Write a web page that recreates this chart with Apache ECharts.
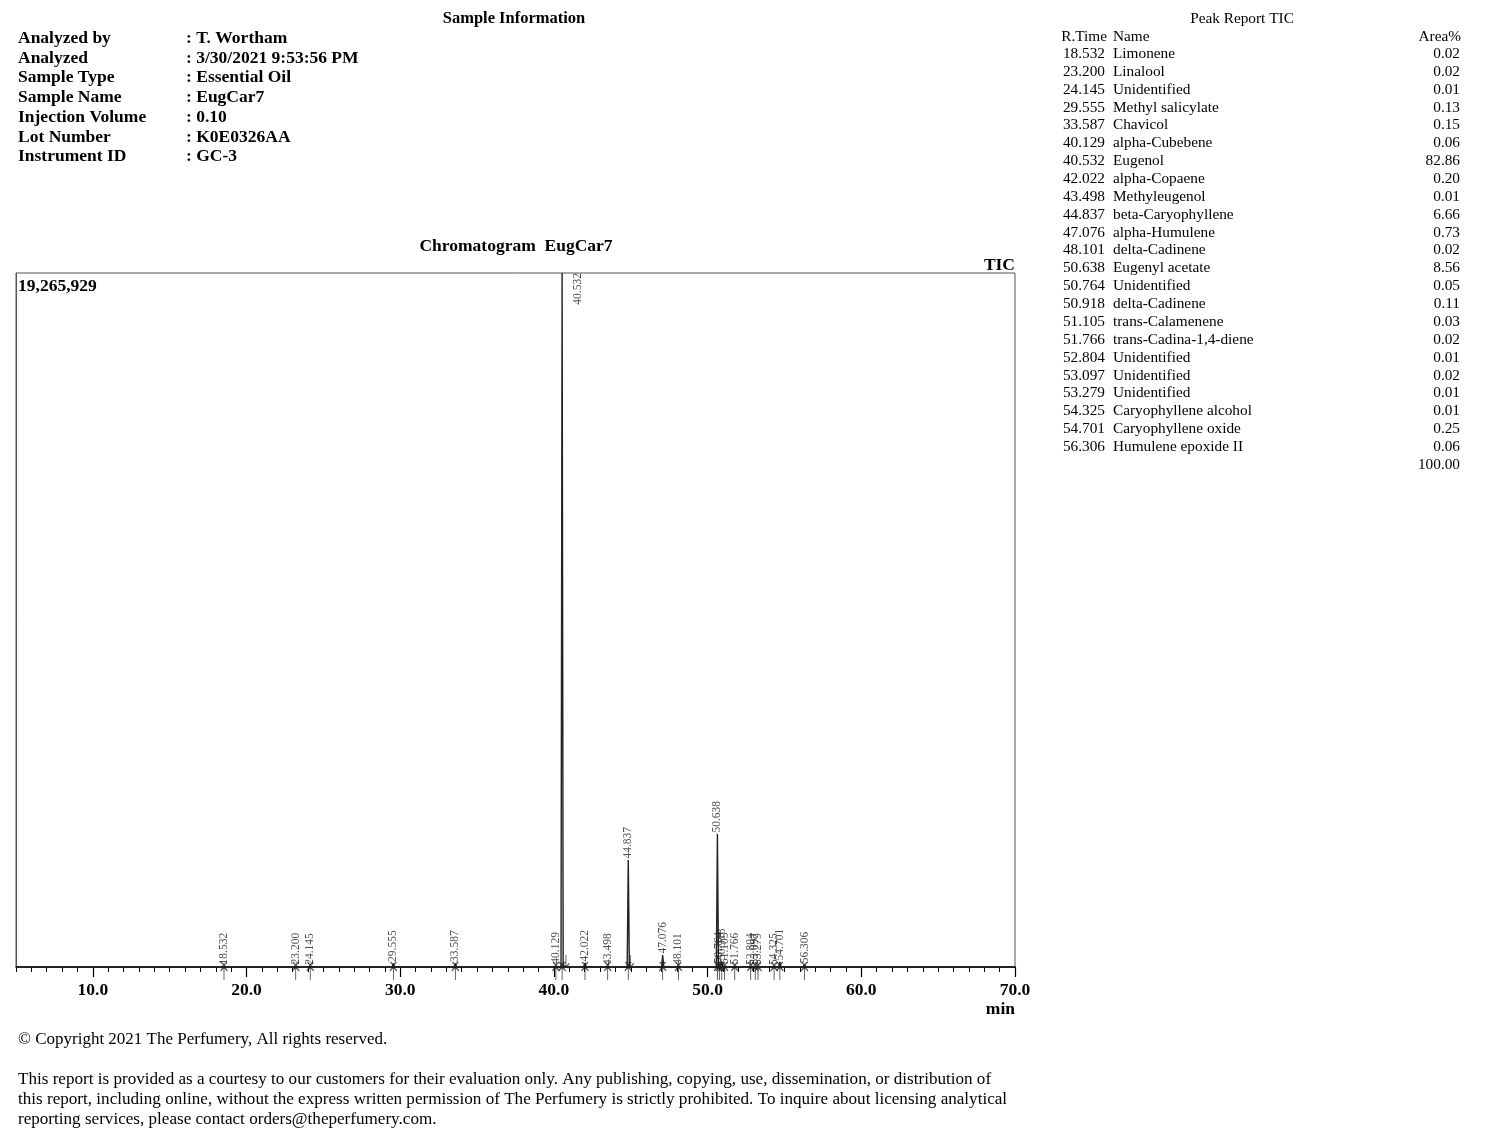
<!DOCTYPE html>
<html>
<head>
<meta charset="utf-8">
<script src="https://cdn.jsdelivr.net/npm/echarts@6/dist/echarts.min.js"></script>
<style>
html,body{margin:0;padding:0;background:#fff;}
#chart{width:1500px;height:1147px;}
</style>
</head>
<body>
<div id="chart"></div>
<script>
// ---- data ----
var retentionTimes = [18.532, 23.200, 24.145, 29.555, 33.587, 40.129, 40.532, 42.022, 43.498, 44.837, 47.076, 48.101, 50.638, 50.764, 50.918, 51.105, 51.766, 52.804, 53.097, 53.279, 54.325, 54.701, 56.306];
var compoundNames = ["Limonene", "Linalool", "Unidentified", "Methyl salicylate", "Chavicol", "alpha-Cubebene", "Eugenol", "alpha-Copaene", "Methyleugenol", "beta-Caryophyllene", "alpha-Humulene", "delta-Cadinene", "Eugenyl acetate", "Unidentified", "delta-Cadinene", "trans-Calamenene", "trans-Cadina-1,4-diene", "Unidentified", "Unidentified", "Unidentified", "Caryophyllene alcohol", "Caryophyllene oxide", "Humulene epoxide II"];
var areaPercent = ["0.02", "0.02", "0.01", "0.13", "0.15", "0.06", "82.86", "0.20", "0.01", "6.66", "0.73", "0.02", "8.56", "0.05", "0.11", "0.03", "0.02", "0.01", "0.02", "0.01", "0.01", "0.25", "0.06"];
var areaTotal = "100.00";
// estimated apex intensities (counts)
var peakHeights = [30000, 30000, 20000, 100000, 100000, 50000, 19265929, 110000, 15000, 2970000, 330000, 20000, 3690000, 60000, 150000, 40000, 30000, 15000, 30000, 15000, 15000, 140000, 60000];
var peakEndMarks = [40.78, 44.97];
var yMax = 19265929;
var xTickLabels = [10, 20, 30, 40, 50, 60, 70];

var sampleInfoLabels = ["Analyzed by", "Analyzed", "Sample Type", "Sample Name", "Injection Volume", "Lot Number", "Instrument ID"];
var sampleInfoValues = [": T. Wortham", ": 3/30/2021 9:53:56 PM", ": Essential Oil", ": EugCar7", ": 0.10", ": K0E0326AA", ": GC-3"];

// ---- build trace ----
var HW = 0.07;
var trace = [[5, 0]];
retentionTimes.forEach(function (rt, i) {
  trace.push([rt - HW, 0]);
  trace.push([rt, peakHeights[i]]);
  trace.push([rt + HW, 0]);
});
trace.push([70, 0]);

var apexData = retentionTimes.map(function (rt, i) {
  var d = { value: [rt, peakHeights[i]] };
  if (peakHeights[i] >= yMax) {
    d.label = { position: 'right', distance: 5, align: 'right', verticalAlign: 'top', offset: [0, 4] };
  }
  return d;
});
var baseMarks = retentionTimes.map(function (rt) { return [rt, 0]; });
var endMarks = peakEndMarks.map(function (rt) { return [rt, 0]; });

var SERIF = '"Liberation Serif","Times New Roman",Times,serif';

function txt(x, y, s, opt) {
  opt = opt || {};
  return {
    type: 'text', x: x, y: y + 1.5, silent: true,
    style: {
      text: s, fill: '#000',
      font: (opt.bold ? 'bold ' : '') + (opt.size || 15) + 'px ' + SERIF,
      textAlign: opt.align || 'left', textVerticalAlign: 'middle'
    }
  };
}

var graphics = [];
graphics.push(txt(514, 17, 'Sample Information', { bold: true, size: 16.5, align: 'center' }));
sampleInfoLabels.forEach(function (l, i) {
  var y = 37 + i * 19.7;
  graphics.push(txt(18, y, l, { bold: true, size: 17.5 }));
  graphics.push(txt(186, y, sampleInfoValues[i], { bold: true, size: 17.5 }));
});
graphics.push(txt(1242, 17, 'Peak Report TIC', { size: 15.3, align: 'center' }));
graphics.push(txt(1107, 35, 'R.Time', { size: 15.3, align: 'right' }));
graphics.push(txt(1113, 35, 'Name', { size: 15.3 }));
graphics.push(txt(1461, 35, 'Area%', { size: 15.3, align: 'right' }));
retentionTimes.forEach(function (rt, i) {
  var y = 52.5 + i * 17.86;
  graphics.push(txt(1105, y, rt.toFixed(3), { size: 15.3, align: 'right' }));
  graphics.push(txt(1113, y, compoundNames[i], { size: 15.3 }));
  graphics.push(txt(1460, y, areaPercent[i], { size: 15.3, align: 'right' }));
});
graphics.push(txt(1460, 52.5 + retentionTimes.length * 17.86, areaTotal, { size: 15.3, align: 'right' }));

graphics.push(txt(516, 245, 'Chromatogram  EugCar7', { bold: true, size: 17.5, align: 'center' }));
graphics.push(txt(1015, 264, 'TIC', { bold: true, size: 17.5, align: 'right' }));
graphics.push(txt(18, 285, yMax.toLocaleString('en-US'), { bold: true, size: 17.5 }));
graphics.push(txt(1015, 1008, 'min', { bold: true, size: 17.5, align: 'right' }));

graphics.push(txt(18, 1038, '\u00A9 Copyright 2021 The Perfumery, All rights reserved.', { size: 17 }));
graphics.push(txt(18, 1078, 'This report is provided as a courtesy to our customers for their evaluation only. Any publishing, copying, use, dissemination, or distribution of', { size: 17.1 }));
graphics.push(txt(18, 1098, 'this report, including online, without the express written permission of The Perfumery is strictly prohibited. To inquire about licensing analytical', { size: 17.1 }));
graphics.push(txt(18, 1118, 'reporting services, please contact orders@theperfumery.com.', { size: 17.1 }));

var chart = echarts.init(document.getElementById('chart'), null, { renderer: 'canvas' });
chart.setOption({
  animation: false,
  backgroundColor: '#fff',
  grid: { left: 16, right: 485, top: 273, bottom: 180, show: true, borderColor: '#555', borderWidth: 1 },
  xAxis: [{
    type: 'value', min: 5, max: 70, position: 'bottom',
    axisLine: { show: true, onZero: false, lineStyle: { color: '#000', width: 1.5 } },
    axisTick: { show: true, customValues: xTickLabels, length: 10, lineStyle: { color: '#000', width: 1.2 } },
    axisLabel: { show: true, customValues: xTickLabels, margin: 14, color: '#000', fontFamily: SERIF, fontWeight: 'bold', fontSize: 17.5,
      formatter: function (v) { return v.toFixed(1); } },
    splitLine: { show: false }
  }, {
    type: 'value', min: 5, max: 70, interval: 1, position: 'bottom',
    axisLine: { show: false },
    axisTick: { show: true, length: 5, lineStyle: { color: '#000', width: 1 } },
    axisLabel: { show: false },
    splitLine: { show: false }
  }],
  yAxis: {
    type: 'value', min: 0, max: yMax,
    axisLine: { show: true, lineStyle: { color: '#555' } },
    axisTick: { show: false }, axisLabel: { show: false }, splitLine: { show: false }
  },
  series: [{
    type: 'line', data: trace, showSymbol: false, symbol: 'none', clip: true,
    lineStyle: { color: '#222', width: 1.4 }, z: 3
  }, {
    type: 'scatter', data: apexData, symbolSize: 1, itemStyle: { color: 'rgba(0,0,0,0)' }, z: 4,
    label: {
      show: true, position: 'top', distance: 1, rotate: 90, align: 'left', verticalAlign: 'middle',
      color: '#222', fontFamily: SERIF, fontSize: 11.5,
      formatter: function (p) { return p.value[0].toFixed(3); }
    }
  }, {
    type: 'scatter', data: baseMarks, z: 5,
    symbol: 'path://M5,0 L5,20 M1,6 L5,0 L9,6', symbolSize: [7, 13], symbolOffset: [0, '50%'],
    itemStyle: { color: 'rgba(0,0,0,0)', borderColor: '#111', borderWidth: 1.1 }
  }, {
    type: 'scatter', data: baseMarks, z: 5,
    symbol: 'path://M0,0 L8,8 M8,0 L0,8', symbolSize: [6, 6], symbolOffset: [0, -2],
    itemStyle: { color: 'rgba(0,0,0,0)', borderColor: '#222', borderWidth: 1.1 }
  }, {
    type: 'scatter', data: endMarks, z: 5,
    symbol: 'path://M5,20 L5,0 M1,14 L5,20 L9,14', symbolSize: [7, 12], symbolOffset: [0, '-50%'],
    itemStyle: { color: 'rgba(0,0,0,0)', borderColor: '#222', borderWidth: 1.1 }
  }],
  graphic: graphics
});
</script>
</body>
</html>
